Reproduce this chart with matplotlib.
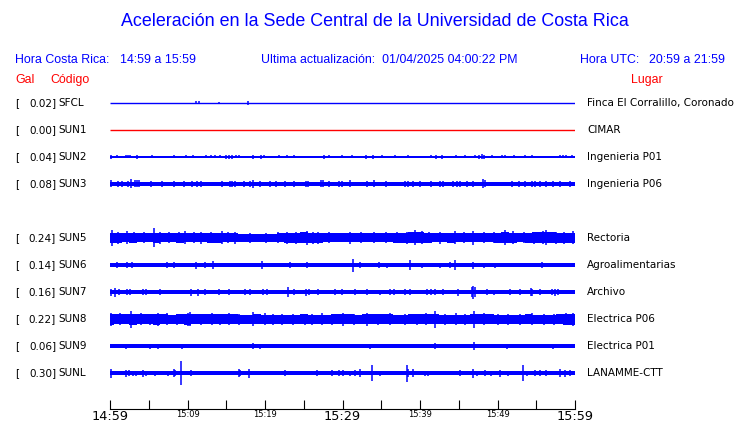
import matplotlib
matplotlib.use("Agg")
import matplotlib.pyplot as plt
from matplotlib.transforms import blended_transform_factory

# ── station table (slot 4 = SUN4, not shown) ──────────────────────────────────
codes = ["SFCL", "SUN1", "SUN2", "SUN3", None, "SUN5", "SUN6", "SUN7", "SUN8", "SUN9", "SUNL"]
peaks_gal = [0.02, 0.00, 0.04, 0.08, None, 0.24, 0.14, 0.16, 0.22, 0.06, 0.30]
places = ["Finca El Corralillo, Coronado", "CIMAR", "Ingenieria P01", "Ingenieria P06", None,
          "Rectoria", "Agroalimentarias", "Archivo", "Electrica P06", "Electrica P01", "LANAMME-CTT"]
trace_colors = ["#0000FF", "#FF0000", "#0000FF", "#0000FF", None,
                "#0000FF", "#0000FF", "#0000FF", "#0000FF", "#0000FF", "#0000FF"]

# ── trace shapes: steady half-amplitude + bursts (minute, half-amplitude) ─────
# amplitude units: 27 = spacing between two traces
base_amp = [0.5, 0.5, 0.7, 2.0, None, 4.0, 1.8, 1.9, 4.0, 1.8, 2.0]

spikes_sfcl = [(11.1, 1.5), (11.5, 1.5), (14.0, 1.0), (17.8, 2.0)]
spikes_sun1 = []
spikes_sun2 = [(0.1, 2), (0.9, 1.5), (2.0, 1.5), (2.3, 1.5), (2.6, 1.5), (3.5, 2), (5.4, 1.5),
               (8.3, 1.5), (9.8, 1.5), (10.7, 1.5), (12.4, 1.5), (13.0, 1.5), (13.6, 1.5),
               (14.2, 1.5), (15.0, 2), (15.4, 2), (15.8, 2), (16.3, 1.5), (16.6, 1.5), (18.4, 2),
               (19.5, 2), (19.9, 1.5), (21.8, 1.5), (22.8, 1.5), (23.7, 1.5), (27.6, 2),
               (28.2, 1.5), (29.9, 1.5), (31.2, 1.5), (33.0, 2), (33.9, 2), (35.1, 1.5),
               (36.8, 1.5), (38.4, 1.5), (41.4, 1.5), (42.0, 2), (42.8, 2), (44.6, 1.5),
               (45.8, 1.5), (47.1, 1.5), (47.6, 2), (48.0, 2.5), (48.3, 2), (49.3, 1.5),
               (50.6, 1.5), (51.0, 1.5), (52.1, 1.5), (53.6, 1.5), (54.5, 1.5), (58.1, 1.5),
               (58.4, 1.5), (58.9, 1.5), (59.6, 1.5)]
spikes_sun3 = [(0.1, 3.5), (1.0, 3), (1.6, 3), (2.3, 3), (2.7, 4.5), (3.2, 3.5), (3.5, 3.5),
               (3.8, 3.5), (5.3, 3), (6.7, 3), (8.3, 3), (9.6, 3), (10.6, 3), (11.2, 3),
               (11.8, 3), (14.4, 3), (15.5, 3), (15.8, 3), (16.1, 3), (17.3, 3), (18.1, 3),
               (18.5, 4), (19.4, 3), (20.7, 3), (21.4, 3), (22.6, 3), (23.7, 3), (25.3, 3),
               (25.6, 3), (27.2, 3.5), (27.5, 3.5), (28.2, 3), (29.5, 3), (29.9, 3), (31.0, 3.5),
               (33.1, 3), (34.1, 3.5), (35.6, 3), (38.1, 3), (38.5, 3), (39.1, 3), (40.0, 3),
               (41.4, 3), (42.6, 3), (43.0, 3), (44.3, 3), (44.8, 3), (45.2, 3), (46.1, 3),
               (46.9, 3), (48.1, 4.5), (48.4, 3.5), (51.9, 3), (52.8, 3), (53.5, 3), (54.4, 3),
               (54.8, 3), (55.5, 3), (56.3, 3), (57.2, 3), (58.1, 3), (59.3, 3)]
spikes_sun5 = [(0.2, 8), (1.0, 6), (2.2, 6.5), (3.1, 5.5), (4.4, 5.5), (5.7, 9.5), (6.5, 6),
               (7.6, 5.5), (8.9, 5.5), (9.7, 6.5), (10.9, 5.5), (11.8, 6), (13.0, 5.5), (14.4, 6.5),
               (15.2, 5.5), (16.1, 6), (18.0, 5), (20.1, 5), (21.7, 5.5), (22.8, 6),
               (24.0, 6), (25.4, 7), (26.2, 6), (26.9, 6), (28.3, 5.5), (31.0, 6),
               (32.4, 5.5), (34.0, 5.5), (35.6, 5.5), (37.0, 5.5), (38.3, 6), (39.4, 7.5), (40.2, 6.5),
               (41.1, 5.5), (42.6, 6), (44.5, 6.5), (45.7, 5.5), (46.9, 7), (48.3, 5.5), (49.6, 5.5),
               (51.0, 7.5), (52.0, 6.5), (53.4, 5.5), (54.7, 6), (55.9, 6.5), (56.2, 7.5), (57.5, 6),
               (58.6, 6), (59.8, 6.5)]
spikes_sun6 = [(0.9, 3), (2.2, 3), (2.9, 3), (7.3, 3), (8.3, 3), (11.1, 3.5), (12.2, 3),
               (13.3, 4), (19.6, 4), (23.2, 3), (25.4, 3), (31.4, 6.5), (32.2, 3), (34.7, 3),
               (35.7, 2.5), (38.7, 5), (40.2, 2.5), (42.6, 2.5), (43.9, 3), (44.5, 5),
               (46.9, 3.5), (48.2, 2.5), (49.7, 2.5), (55.8, 3)]
spikes_sun7 = [(0.1, 3.5), (0.6, 4.5), (1.1, 3), (2.2, 3), (2.6, 3), (4.2, 3), (4.6, 3),
               (6.5, 3), (10.5, 3.5), (11.4, 3.5), (12.3, 3), (14.0, 3), (15.3, 3), (17.4, 3),
               (18.0, 3), (19.7, 3), (20.2, 3), (23.0, 5), (23.7, 3), (25.3, 3.5), (25.7, 3),
               (26.9, 3), (29.0, 3), (29.9, 3), (31.6, 3), (33.1, 3), (34.8, 2.5), (36.1, 3),
               (36.7, 3), (38.1, 3), (38.7, 3), (40.9, 3), (41.4, 3), (41.9, 3), (43.0, 3),
               (44.9, 3.5), (46.7, 5), (46.9, 6.5), (47.1, 5), (48.6, 3), (49.5, 2.5),
               (51.6, 3), (52.9, 3), (54.3, 4), (54.5, 3.5), (55.5, 3), (57.0, 3), (57.4, 3.5),
               (57.8, 3)]
spikes_sun8 = [(0.1, 6.5), (1.3, 6), (2.7, 8.5), (4.0, 6), (5.2, 5.5), (6.2, 6.5), (7.3, 6),
               (8.6, 5.5), (10.1, 6.5), (10.3, 7), (11.7, 5.5), (13.1, 6), (14.2, 5.5), (15.3, 6),
               (16.6, 5.5), (18.5, 7), (20.0, 6), (21.0, 5.5), (22.2, 5.5), (23.6, 5.5), (25.2, 5.5),
               (26.1, 5.5), (27.3, 6), (28.7, 5.5), (30.1, 6.5), (31.5, 5.5), (33.1, 6.5), (34.6, 5.5),
               (36.1, 6), (38.1, 5.5), (39.6, 5.5), (40.8, 6), (41.9, 8.5), (43.2, 5.5),
               (44.7, 6), (45.8, 5.5), (47.0, 8.5), (48.2, 6), (50.1, 5.5), (51.4, 5.5),
               (52.9, 5.5), (54.4, 6), (56.0, 5.5), (57.3, 5.5), (58.9, 6), (59.7, 6.5)]
spikes_sun9 = [(2.0, 2.5), (5.2, 2.5), (6.2, 2.5), (9.3, 2.5), (18.5, 3), (19.4, 2.5), (33.5, 2.5),
               (41.9, 3), (47.0, 4), (51.2, 2.5), (57.2, 2.5)]
spikes_sunl = [(0.1, 4.5), (2.0, 3.5), (2.4, 3), (3.0, 2.5), (3.4, 2.5), (4.2, 3.5), (4.7, 2.5),
               (5.8, 2.5), (7.5, 2.5), (8.2, 4), (8.4, 3), (9.1, 12), (10.5, 3), (16.6, 4),
               (16.8, 3), (17.9, 4.5), (22.6, 3), (26.7, 3), (28.6, 3), (29.5, 3), (30.1, 3),
               (31.0, 2.5), (31.6, 3), (32.2, 4), (33.8, 8.3), (34.8, 2.5), (38.3, 8.5),
               (38.5, 4), (39.1, 4), (40.6, 2.5), (41.0, 2.5), (45.2, 3), (46.8, 4.5),
               (47.3, 2.5), (48.4, 3), (49.2, 2.5), (50.3, 3.5), (51.4, 2.5), (53.3, 8),
               (53.8, 2.5), (54.9, 3), (55.5, 3), (56.3, 3), (58.1, 4), (58.7, 3.5), (59.3, 3)]
spikes = [spikes_sfcl, spikes_sun1, spikes_sun2, spikes_sun3, None, spikes_sun5,
          spikes_sun6, spikes_sun7, spikes_sun8, spikes_sun9, spikes_sunl]

# minute-by-minute envelope for the two noisiest stations
env_minutes = list(range(61))
env_sun5 = [5, 5, 4.5, 5, 4.5, 4.5, 5, 4.5, 4.5, 5, 4.5, 4.5, 4.5, 5, 5, 4.5, 4.5, 4, 4, 4,
            4, 4, 4.5, 5, 5, 5.5, 5, 5, 4.5, 4.5, 4.5, 4.5, 4.5, 4.5, 4.5, 4.5, 4.5, 5, 5, 5.5,
            5.5, 5, 4.5, 4.5, 5, 4.5, 4.5, 4.5, 4.5, 4.5, 5, 5.5, 5, 4.5, 5, 5.5, 5.5, 5.5, 5, 5, 5]
env_sun8 = [5.5, 5, 5, 5.5, 5, 5, 5.5, 5, 4.5, 5, 5.5, 5, 5, 5, 5, 5, 5, 4.5, 4.5, 5,
            4.5, 4.5, 4.5, 4.5, 4.5, 5, 4.5, 4.5, 4.5, 5, 5, 5, 4.5, 5, 5, 5, 5, 4.5, 4.5, 5,
            5, 5, 5, 4.5, 4.5, 4.5, 4.5, 5, 5, 5, 4.5, 4.5, 4.5, 4.5, 5, 4.5, 4.5, 4.5, 5, 5.5, 5.5]
envelopes = {"SUN5": env_sun5, "SUN8": env_sun8}

tick_minutes = list(range(0, 61, 5))
tick_labels = ["14:59", "", "15:09", "", "15:19", "", "15:29", "", "15:39", "", "15:49", "", "15:59"]
big_ticks = ["14:59", "15:29", "15:59"]

ROW = 27
W, H = 740, 423

fig = plt.figure(figsize=(W / 100, H / 100), dpi=100)
ax = fig.add_axes([110 / W, 14 / H, 465 / W, 319 / H])
ax.set_xlim(0, 60)
ax.set_ylim(10 * ROW + 36, -13)

for i, code in enumerate(codes):
    if code is None:
        continue
    y = i * ROW
    c = trace_colors[i]
    b = base_amp[i]
    if b <= 0.5:
        ax.hlines(y, 0, 60, color=c, lw=1.0)
    else:
        ax.fill_between([0, 60], y - b, y + b, color=c, lw=0)
    if code in envelopes:
        env = envelopes[code]
        ax.fill_between(env_minutes, [y - e for e in env], [y + e for e in env],
                        step="mid", color=c, lw=0)
    if spikes[i]:
        ts = [s[0] for s in spikes[i]]
        amps = [s[1] for s in spikes[i]]
        ax.vlines(ts, [y - a for a in amps], [y + a for a in amps], color=c, lw=1.1)

# ── time axis ─────────────────────────────────────────────────────────────────
for side in ("top", "left", "right"):
    ax.spines[side].set_visible(False)
ax.spines["bottom"].set_linewidth(0.8)
ax.set_yticks([])
ax.set_xticks(tick_minutes)
ax.set_xticklabels(tick_labels)
ax.tick_params(axis="x", direction="in", length=6.5, width=0.8, pad=1.0)
for lbl in ax.get_xticklabels():
    lbl.set_fontsize(9.3 if lbl.get_text() in big_ticks else 6)

# ── row labels ────────────────────────────────────────────────────────────────
tr = blended_transform_factory(fig.transFigure, ax.transData)
for i, code in enumerate(codes):
    if code is None:
        continue
    y = i * ROW
    kw = dict(transform=tr, va="center", fontsize=7.5, family="DejaVu Sans", color="black")
    ax.text(15 / W, y, "[", ha="left", **kw)
    ax.text(56 / W, y, f"{peaks_gal[i]:.2f}]", ha="right", **kw)
    ax.text(58 / W, y, code, ha="left", **kw)
    ax.text(587 / W, y, places[i], ha="left", **kw)

# ── headers ───────────────────────────────────────────────────────────────────
def top_text(x, y, s, **kw):
    fig.text(x / W, 1 - y / H, s, family="Liberation Sans", va="center", **kw)

top_text(375, 22, "Aceleración en la Sede Central de la Universidad de Costa Rica",
         ha="center", fontsize=12.9, color="#0000FF")
top_text(15, 60, "Hora Costa Rica:", ha="left", fontsize=8.9, color="#0000FF")
top_text(120, 60, "14:59 a 15:59", ha="left", fontsize=8.9, color="#0000FF")
top_text(261, 60, "Ultima actualización:  01/04/2025 04:00:22 PM", ha="left", fontsize=8.9,
         color="#0000FF")
top_text(580, 60, "Hora UTC:", ha="left", fontsize=8.9, color="#0000FF")
top_text(725, 60, "20:59 a 21:59", ha="right", fontsize=8.9, color="#0000FF")
top_text(15, 80, "Gal", ha="left", fontsize=8.9, color="#FF0000")
top_text(50, 80, "Código", ha="left", fontsize=8.9, color="#FF0000")
top_text(631, 80, "Lugar", ha="left", fontsize=8.9, color="#FF0000")

fig.savefig("out.png", dpi=100, facecolor="white")
